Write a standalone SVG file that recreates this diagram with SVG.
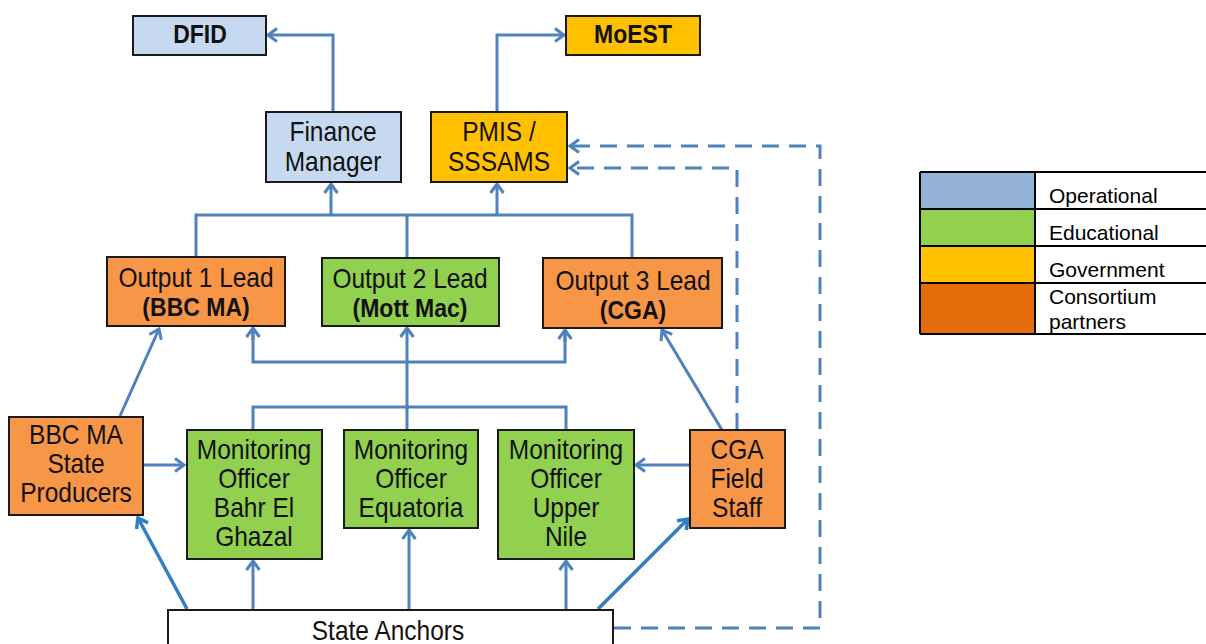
<svg xmlns="http://www.w3.org/2000/svg" width="1206" height="644" viewBox="0 0 1206 644">
<style>
.box{stroke:#1a1a1a;stroke-width:2}
.blue{fill:#c6d9f1}.gold{fill:#ffc000}.orange{fill:#f79646}.green{fill:#92d050}.white{fill:#ffffff}
.t{font-family:"Liberation Sans",Arial,sans-serif;font-size:24.5px;fill:#111;text-anchor:middle}
.b{font-weight:bold}
.c{fill:none;stroke:#4f81bd;stroke-width:3}
.cb{fill:none;stroke:#2f7ec6;stroke-width:3.5}
.d{fill:none;stroke:#4f81bd;stroke-width:3;stroke-dasharray:17 10}
.lg{font-family:"Liberation Sans",Arial,sans-serif;font-size:21px;fill:#000}
</style>
<defs>
<marker id="a" markerUnits="userSpaceOnUse" markerWidth="14" markerHeight="16" viewBox="0 0 14 16" refX="11" refY="8" orient="auto" overflow="visible">
<path d="M2,1.5 L11,8 L2,14.5" fill="none" stroke="#4f81bd" stroke-width="3"/>
</marker>
<marker id="ab" markerUnits="userSpaceOnUse" markerWidth="14" markerHeight="16" viewBox="0 0 14 16" refX="11" refY="8" orient="auto" overflow="visible">
<path d="M2,1.5 L11,8 L2,14.5" fill="none" stroke="#2f7ec6" stroke-width="3.5"/>
</marker>
</defs>

<g id="connectors">
<path class="c" d="M333,112 V35 H268" marker-end="url(#a)"/>
<path class="c" d="M497,112 V35 H564" marker-end="url(#a)"/>
<path class="c" d="M196,257 V215 H632 V258"/>
<path class="c" d="M407,258 V215"/>
<path class="c" d="M331,215 V184" marker-end="url(#a)"/>
<path class="c" d="M497,215 V184" marker-end="url(#a)"/>
<path class="c" d="M253,328 V362 H565 V330"/>
<path class="c" d="M253,340 V328" marker-end="url(#a)"/>
<path class="c" d="M565,342 V330" marker-end="url(#a)"/>
<path class="c" d="M407,430 V328" marker-end="url(#a)"/>
<path class="c" d="M253,430 V407 H566 V430"/>
<path class="c" d="M120,416 L159,329" marker-end="url(#a)"/>
<path class="c" d="M722,430 L662,330" marker-end="url(#a)"/>
<path class="c" d="M143,465 H184" marker-end="url(#a)"/>
<path class="c" d="M690,465 H636" marker-end="url(#a)"/>
<path class="cb" d="M187,609 L138,518" marker-end="url(#ab)"/>
<path class="c" d="M253,609 V561" marker-end="url(#a)"/>
<path class="c" d="M409,609 V530" marker-end="url(#a)"/>
<path class="c" d="M566,609 V561" marker-end="url(#a)"/>
<path class="cb" d="M598,609 L688,519" marker-end="url(#ab)"/>
<path class="d" d="M737,430 V168 H570" marker-end="url(#a)"/>
<path class="d" d="M614,628 H820 V146 H570" marker-end="url(#a)"/>
</g>

<g id="dfid">
<rect class="box blue" x="133" y="16" width="133" height="39"/>
<text class="t b" style="font-size:23px" transform="translate(200,35) scale(1,1.15)"><tspan x="0" y="7">DFID</tspan></text>
</g>
<g id="moest">
<rect class="box gold" x="566" y="16" width="134" height="39"/>
<text class="t b" style="font-size:23px" transform="translate(633,35) scale(1,1.15)"><tspan x="0" y="7">MoEST</tspan></text>
</g>
<g id="finance">
<rect class="box blue" x="266" y="112" width="135" height="70"/>
<text class="t" transform="translate(333,147) scale(1,1.1)"><tspan x="0" y="-5.5">Finance</tspan><tspan x="0" y="22">Manager</tspan></text>
</g>
<g id="pmis">
<rect class="box gold" x="431" y="112" width="136" height="70"/>
<text class="t" transform="translate(499,147) scale(1,1.1)"><tspan x="0" y="-5.5">PMIS  /</tspan><tspan x="0" y="22">SSSAMS</tspan></text>
</g>
<g id="output1">
<rect class="box orange" x="107" y="257" width="178" height="69"/>
<text class="t" transform="translate(196,291.5) scale(1,1.13)"><tspan x="0" y="-4.1">Output 1 Lead</tspan><tspan class="b" style="font-size:23px" x="0" y="21.6">(BBC  MA)</tspan></text>
</g>
<g id="output2">
<rect class="box green" x="322" y="258" width="177" height="68"/>
<text class="t" transform="translate(410,292.5) scale(1,1.13)"><tspan x="0" y="-4.1">Output 2 Lead</tspan><tspan class="b" style="font-size:23px" x="0" y="21.6">(Mott Mac)</tspan></text>
</g>
<g id="output3">
<rect class="box orange" x="543" y="258" width="179" height="70"/>
<text class="t" transform="translate(633,294.5) scale(1,1.13)"><tspan x="0" y="-4.1">Output 3 Lead</tspan><tspan class="b" style="font-size:23px" x="0" y="21.6">(CGA)</tspan></text>
</g>
<g id="bbcma">
<rect class="box orange" x="9" y="417" width="134" height="98"/>
<text class="t" transform="translate(76,463) scale(1,1.13)"><tspan x="0" y="-16.9">BBC MA</tspan><tspan x="0" y="8.8">State</tspan><tspan x="0" y="34.4">Producers</tspan></text>
</g>
<g id="mo-bahr">
<rect class="box green" x="187" y="430" width="135" height="129"/>
<text class="t" transform="translate(254,493) scale(1,1.13)"><tspan x="0" y="-29.7">Monitoring</tspan><tspan x="0" y="-4.1">Officer</tspan><tspan x="0" y="21.6">Bahr El</tspan><tspan x="0" y="47.3">Ghazal</tspan></text>
</g>
<g id="mo-equatoria">
<rect class="box green" x="344" y="430" width="134" height="98"/>
<text class="t" transform="translate(411,478) scale(1,1.13)"><tspan x="0" y="-16.9">Monitoring</tspan><tspan x="0" y="8.8">Officer</tspan><tspan x="0" y="34.4">Equatoria</tspan></text>
</g>
<g id="mo-uppernile">
<rect class="box green" x="498" y="430" width="136" height="129"/>
<text class="t" transform="translate(566,493) scale(1,1.13)"><tspan x="0" y="-29.7">Monitoring</tspan><tspan x="0" y="-4.1">Officer</tspan><tspan x="0" y="21.6">Upper</tspan><tspan x="0" y="47.3">Nile</tspan></text>
</g>
<g id="cga-field">
<rect class="box orange" x="690" y="430" width="95" height="98"/>
<text class="t" transform="translate(737,478) scale(1,1.13)"><tspan x="0" y="-16.9">CGA</tspan><tspan x="0" y="8.8">Field</tspan><tspan x="0" y="34.4">Staff</tspan></text>
</g>
<g id="state-anchors">
<rect class="box white" x="168" y="610" width="445" height="44"/>
<text class="t" transform="translate(388,631) scale(1,1.1)"><tspan x="0" y="8">State Anchors</tspan></text>
</g>

<g id="legend">
<rect x="920" y="172" width="115" height="37" fill="#95b3d7"/>
<rect x="920" y="209" width="115" height="37" fill="#92d050"/>
<rect x="920" y="246" width="115" height="37" fill="#ffc000"/>
<rect x="920" y="283" width="115" height="51" fill="#e46c0a"/>
<g stroke="#000" stroke-width="2" fill="none">
<path d="M920,172 H1206 M920,209 H1206 M920,246 H1206 M920,283 H1206 M920,334 H1206 M920,172 V334 M1035,172 V334"/>
</g>
<text class="lg" x="1049" y="203">Operational</text>
<text class="lg" x="1049" y="240">Educational</text>
<text class="lg" x="1049" y="277">Government</text>
<text class="lg" x="1049" y="304">Consortium</text>
<text class="lg" x="1049" y="329">partners</text>
</g>
</svg>
